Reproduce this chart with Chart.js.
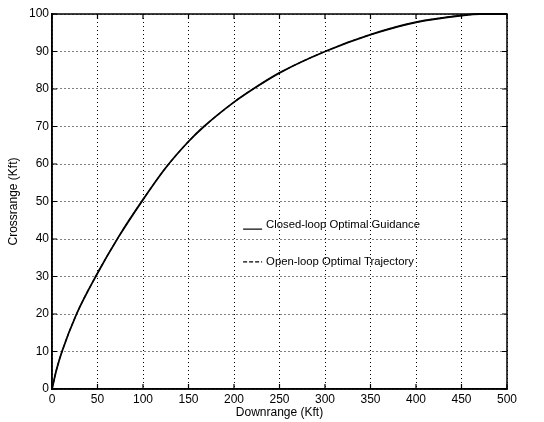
<!DOCTYPE html>
<html>
<head>
<meta charset="utf-8">
<script src="https://cdn.jsdelivr.net/npm/chart.js@4"></script>
<style>
html,body{margin:0;padding:0;background:#fff;}
#wrap{width:544px;height:422px;}
</style>
</head>
<body>
<div id="wrap"><canvas id="c" width="544" height="422"></canvas></div>
<script>
const downrange = [0, 5, 11, 27, 48, 73, 100, 125, 150, 167, 200, 221, 250, 300, 350, 400, 450, 470, 500];
const closedLoop = [0, 5.2, 10, 20, 30, 40.5, 50.5, 59, 66, 70, 76.5, 80, 84.3, 90, 94.5, 97.8, 99.6, 100, 100];
const openLoop = [0, 5.2, 10, 20, 30, 40.5, 50.5, 59, 66, 70, 76.5, 80, 84.3, 90, 94.5, 97.8, 99.6, 100, 100];
const xTicks = [0, 50, 100, 150, 200, 250, 300, 350, 400, 450, 500];
const yTicks = [0, 10, 20, 30, 40, 50, 60, 70, 80, 90, 100];
const seriesLabels = ['Closed-loop Optimal Guidance', 'Open-loop Optimal Trajectory'];

const FONT = 'Liberation Sans, Arial, Helvetica, sans-serif';

const framePlugin = {
  id: 'frame',
  afterDatasetsDraw(chart) {
    const {ctx, chartArea: a, scales: {x, y}} = chart;
    ctx.save();
    ctx.strokeStyle = '#000';
    ctx.lineWidth = 1.5;
    ctx.setLineDash([]);
    ctx.strokeRect(a.left, a.top, a.right - a.left, a.bottom - a.top);
    ctx.lineWidth = 1.2;
    const tl = 5;
    xTicks.forEach(v => {
      const px = x.getPixelForValue(v);
      ctx.beginPath();
      ctx.moveTo(px, a.bottom); ctx.lineTo(px, a.bottom - tl);
      ctx.moveTo(px, a.top); ctx.lineTo(px, a.top + tl);
      ctx.stroke();
    });
    yTicks.forEach(v => {
      const py = y.getPixelForValue(v);
      ctx.beginPath();
      ctx.moveTo(a.left, py); ctx.lineTo(a.left + tl, py);
      ctx.moveTo(a.right, py); ctx.lineTo(a.right - tl, py);
      ctx.stroke();
    });
    const entries = [
      {label: chart.data.datasets[0].label, dash: [], yv: 43.7, lineOff: 4},
      {label: chart.data.datasets[1].label, dash: [4, 2], yv: 33.9, lineOff: 0}
    ];
    ctx.font = '11.3px ' + FONT;
    ctx.fillStyle = '#000';
    ctx.textBaseline = 'middle';
    ctx.lineWidth = 1.2;
    entries.forEach(e => {
      const py = y.getPixelForValue(e.yv);
      const x0 = x.getPixelForValue(210);
      ctx.setLineDash(e.dash);
      ctx.beginPath();
      ctx.moveTo(x0, py + e.lineOff); ctx.lineTo(x0 + 19, py + e.lineOff);
      ctx.stroke();
      ctx.setLineDash([]);
      ctx.fillText(e.label, x0 + 23, py);
    });
    ctx.restore();
  }
};

new Chart(document.getElementById('c'), {
  type: 'line',
  data: {
    labels: downrange,
    datasets: [
      {
        label: seriesLabels[0],
        data: downrange.map((d, i) => ({x: d, y: closedLoop[i]})),
        borderColor: '#000', borderWidth: 1.8, pointRadius: 0,
        cubicInterpolationMode: 'monotone', fill: false
      },
      {
        label: seriesLabels[1],
        data: downrange.map((d, i) => ({x: d, y: openLoop[i]})),
        borderColor: '#000', borderWidth: 1.2, borderDash: [4, 2], pointRadius: 0,
        cubicInterpolationMode: 'monotone', fill: false
      }
    ]
  },
  options: {
    responsive: false,
    animation: false,
    clip: false,
    layout: {padding: {top: 14, right: 37, left: 6, bottom: 0}},
    plugins: {legend: {display: false}, tooltip: {enabled: false}},
    scales: {
      x: {
        type: 'linear', min: 0, max: 500,
        afterBuildTicks: s => { s.ticks = xTicks.map(v => ({value: v})); },
        afterFit: s => { s.height = 33; },
        grid: {color: '#000', lineWidth: 1, drawTicks: false},
        border: {display: true, color: '#000', width: 1.5, dash: [1, 3]},
        ticks: {color: '#000', font: {family: FONT, size: 12}, padding: 3, maxRotation: 0},
        title: {display: true, text: 'Downrange (Kft)', color: '#000', font: {family: FONT, size: 12}, padding: {top: 0, bottom: 2}}
      },
      y: {
        type: 'linear', min: 0, max: 100,
        afterBuildTicks: s => { s.ticks = yTicks.map(v => ({value: v})); },
        afterFit: s => { s.width = 46; },
        grid: {color: '#000', lineWidth: 1, drawTicks: false},
        border: {display: true, color: '#000', width: 1.5, dash: [1, 3]},
        ticks: {color: '#000', font: {family: FONT, size: 12}, padding: 3},
        title: {display: true, text: 'Crossrange (Kft)', color: '#000', font: {family: FONT, size: 12}, padding: {top: 0, bottom: 0}}
      }
    }
  },
  plugins: [framePlugin]
});
</script>
</body>
</html>
